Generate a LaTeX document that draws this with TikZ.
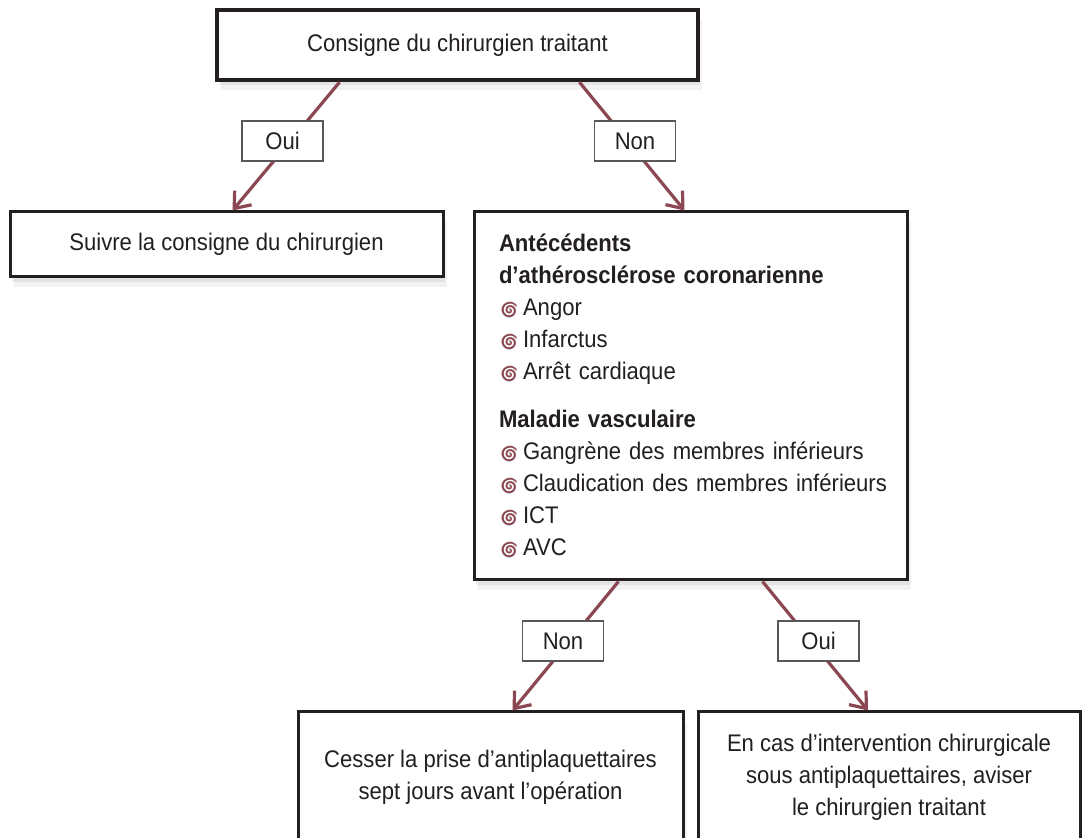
\documentclass[tikz,border=0pt]{standalone}
\usepackage{fontspec}
\setmainfont[FakeStretch=0.92]{Liberation Sans}
\newfontfamily\emojifont{Noto Emoji}
\usetikzlibrary{arrows.meta,shadows}
\definecolor{fleche}{RGB}{140,72,82}
\definecolor{encre}{RGB}{35,31,32}
\newcommand{\puce}{\makebox[12pt][l]{\textcolor{fleche}{\emojifont\fontsize{8}{8}\selectfont 🌀}}}

\begin{document}
\begin{tikzpicture}[
 x=0.5pt, y=0.5pt,
 font=\fontsize{12}{16}\selectfont, text=encre,
 box/.style={draw=encre, line width=1.5pt, fill=white, rectangle, align=center, inner sep=0pt,
  general shadow={fill=black, opacity=0.05, shadow xshift=2pt, shadow yshift=-5pt},
  general shadow={fill=black, opacity=0.06, shadow xshift=1pt, shadow yshift=-2.5pt}},
 tag/.style={draw=encre!75, line width=0.75pt, fill=white, minimum width=40.5pt, minimum height=20pt, inner sep=0pt},
 arrow/.style={draw=fleche, line width=1.6pt, -{Straight Barb[length=7pt, width=11pt]}}
]
\clip (0,-838) rectangle (1082,0);
\fill[white] (0,-838) rectangle (1082,0);

% consigne
\node[box, line width=2.25pt, minimum width=240.5pt, minimum height=35pt] (consigne) at (457.5,-45)
 {Consigne du chirurgien traitant};

% premier niveau
\node[box, minimum width=216.5pt, minimum height=32.5pt] (suivre) at (226.5,-244.5)
 {Suivre la consigne du chirurgien};

\node[box, minimum width=216.5pt, minimum height=184pt, text width=191.5pt, align=left] (antecedents) at (690.5,-396) {
\textbf{Antécédents}\\
\textbf{d’athérosclérose coronarienne}\\
\puce Angor\\
\puce Infarctus\\
\puce Arrêt cardiaque\\[8pt]
\textbf{Maladie vasculaire}\\
\puce Gangrène des membres inférieurs\\
\mbox{\puce Claudication des membres inférieurs}\\
\puce ICT\\
\puce AVC
};

% second niveau
\node[box, minimum width=192.5pt, minimum height=65.5pt] (cesser) at (490.5,-777.5)
 {Cesser la prise d’antiplaquettaires\\sept jours avant l’opération};

\node[box, minimum width=191pt, minimum height=65.5pt] (aviser) at (889,-777.5)
 {En cas d’intervention chirurgicale\\sous antiplaquettaires, aviser\\le chirurgien traitant};

% fleches
\draw[arrow] ([xshift=-59pt]consigne.south) -- ([xshift=3pt]suivre.north);
\draw[arrow] ([xshift=61pt]consigne.south) -- ([xshift=-3pt]antecedents.north);
\draw[arrow] ([xshift=-36pt]antecedents.south) -- ([xshift=11pt]cesser.north);
\draw[arrow] ([xshift=36pt]antecedents.south) -- ([xshift=-10.5pt]aviser.north);

% etiquettes
\node[tag] (oui1) at (282.5,-141) {Oui};
\node[tag] (non1) at (635,-141) {Non};
\node[tag] (non2) at (563,-641) {Non};
\node[tag] (oui2) at (818.5,-641) {Oui};

\end{tikzpicture}
\end{document}
